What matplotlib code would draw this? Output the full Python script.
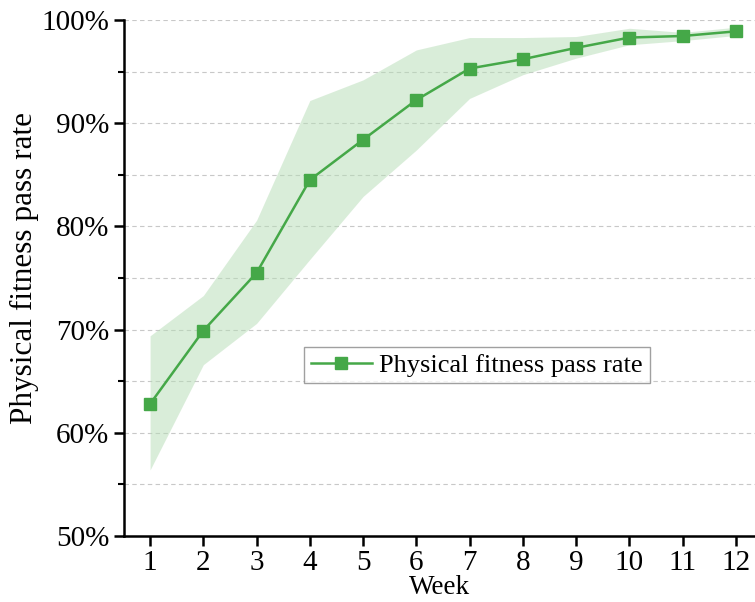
import matplotlib
matplotlib.use("Agg")
import matplotlib.pyplot as plt
from matplotlib.ticker import MultipleLocator, FuncFormatter

plt.rcParams['font.family'] = ['Liberation Serif', 'DejaVu Serif']

# Data
weeks = [1, 2, 3, 4, 5, 6, 7, 8, 9, 10, 11, 12]
pass_rate = [62.8, 69.9, 75.5, 84.5, 88.4, 92.25, 95.3, 96.2, 97.3, 98.3, 98.45, 98.9]
upper = [69.4, 73.3, 80.6, 92.2, 94.2, 97.1, 98.3, 98.3, 98.4, 99.2, 98.8, 99.3]
lower = [56.4, 66.6, 70.6, 76.8, 82.9, 87.4, 92.4, 94.7, 96.3, 97.6, 98.0, 98.5]

green = '#45a848'

fig = plt.figure(figsize=(7.55, 6.02), dpi=100)
ax = fig.add_axes([124 / 755, 66 / 602, 631 / 755, 516 / 602])

ax.fill_between(weeks, lower, upper, color='#b5dcb5', alpha=0.5, linewidth=0)
ax.plot(weeks, pass_rate, color=green, linewidth=1.8, marker='s', markersize=9,
        label='Physical fitness pass rate')

ax.set_xlim(0.51, 12.36)
ax.set_ylim(50, 100)
ax.set_xticks(weeks)
ax.yaxis.set_major_locator(MultipleLocator(10))
ax.yaxis.set_minor_locator(MultipleLocator(5))
ax.yaxis.set_major_formatter(FuncFormatter(lambda v, p: f'{int(v)}%'))

ax.grid(True, which='both', axis='y', linestyle=(0, (4, 3)), color='#c8c8c8', linewidth=0.8)
ax.set_axisbelow(True)

for s in ['top', 'right']:
    ax.spines[s].set_visible(False)
for s in ['left', 'bottom']:
    ax.spines[s].set_linewidth(1.8)

ax.tick_params(axis='both', which='major', direction='out', length=7, width=1.8, labelsize=21)
ax.tick_params(axis='x', which='major', pad=3)
ax.tick_params(axis='y', which='minor', direction='out', length=4, width=1.5)

ax.set_xlabel('Week', fontsize=19.5, labelpad=-1)
ax.set_ylabel('Physical fitness pass rate', fontsize=22.5)
ax.yaxis.set_label_coords(-0.135, 0.52)

leg = ax.legend(loc='center', bbox_to_anchor=((477 - 124) / 631, (602 - 365 - 66) / 516),
                fontsize=19, frameon=True, fancybox=False, handlelength=2.3,
                borderpad=0.25, handletextpad=0.3)
leg.get_frame().set_edgecolor('#888888')
leg.get_frame().set_linewidth(1.0)

fig.savefig('out.png', dpi=100)
